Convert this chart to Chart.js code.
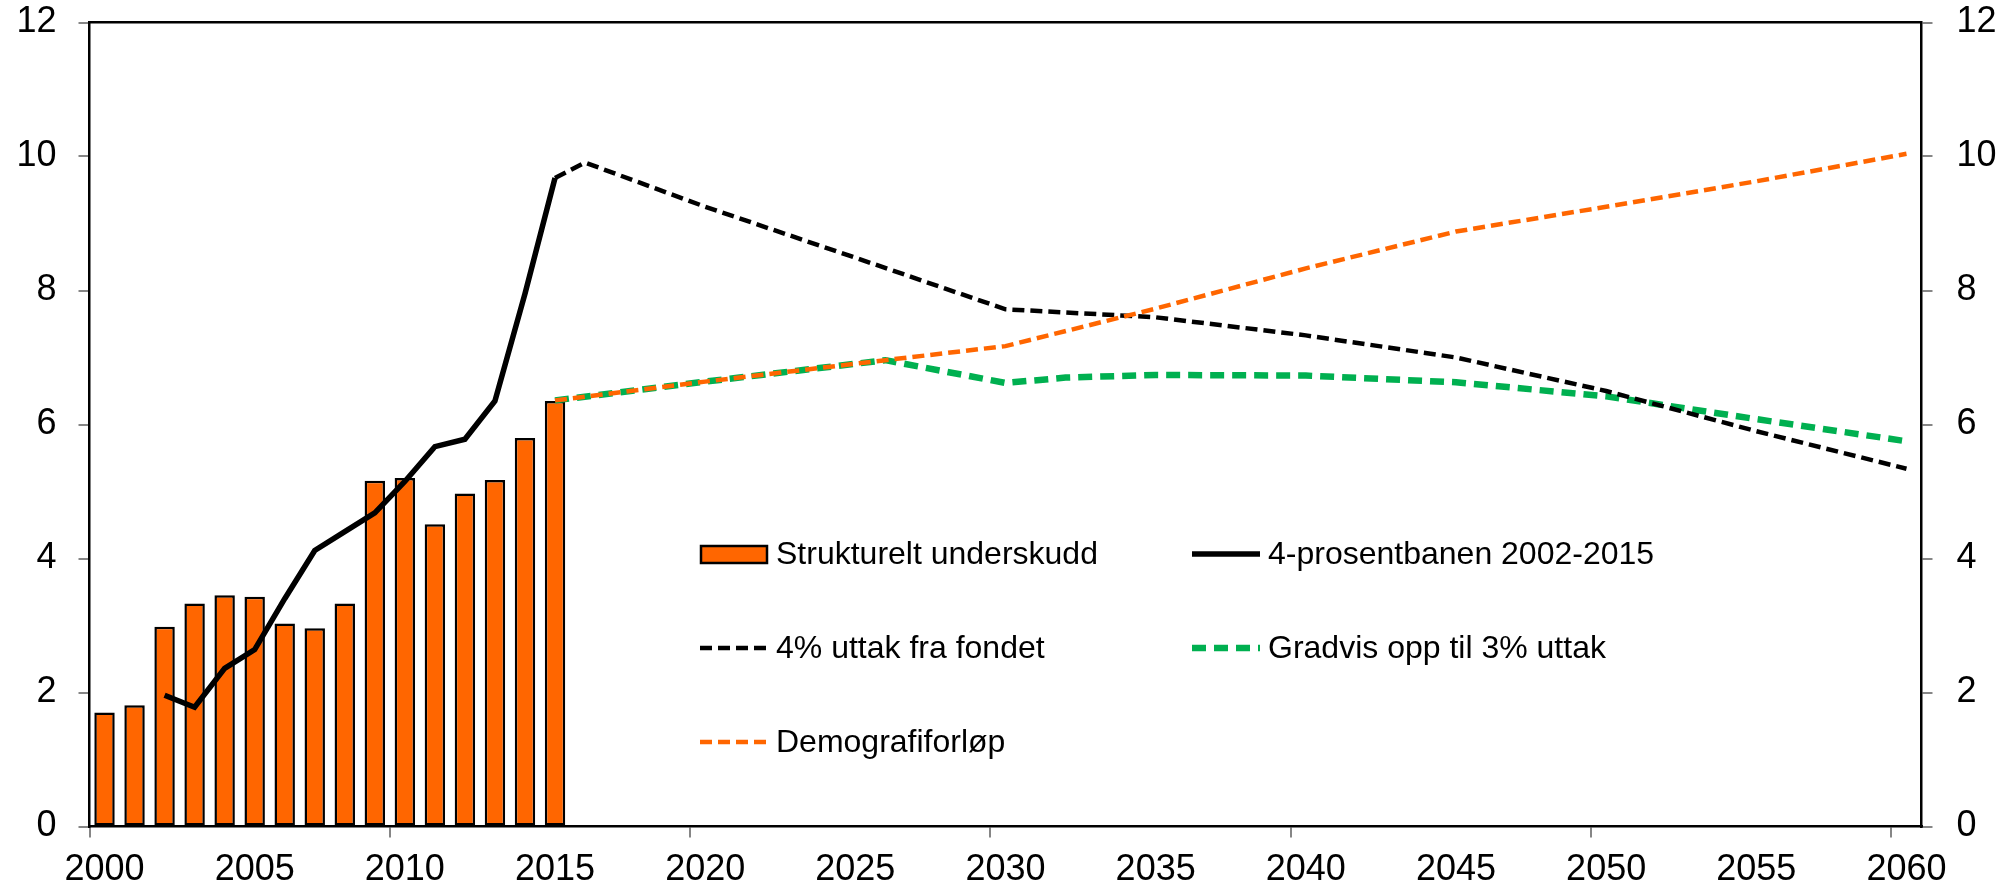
<!DOCTYPE html>
<html>
<head>
<meta charset="utf-8">
<script src="https://cdn.jsdelivr.net/npm/chart.js@4.4.1/dist/chart.umd.min.js"></script>
<style>
  html, body { margin: 0; padding: 0; background: #fff; }
  #wrap { position: relative; width: 2010px; height: 888px; }
</style>
</head>
<body>
<div id="wrap"><canvas id="chartFund"></canvas></div>
<script>
// categories: one per year, 2000-2060
const years = Array.from({ length: 61 }, (_, i) => String(2000 + i));

// Strukturelt underskudd, 2000-2015
const deficit = [1.70, 1.81, 2.98, 3.33, 3.45, 3.43, 3.03, 2.96, 3.33, 5.16, 5.20, 4.51, 4.97, 5.17, 5.80, 6.35];

// 4-prosentbanen 2002-2015
const pathYears = ["2002", "2003", "2004", "2005", "2006", "2007", "2008", "2009", "2010", "2011", "2012", "2013", "2014", "2015"];
const pathValues = [1.96, 1.78, 2.36, 2.64, 3.40, 4.12, 4.40, 4.68, 5.15, 5.67, 5.78, 6.35, 7.95, 9.68];

// 4% uttak fra fondet
const fourPctYears = ["2015", "2016", "2020", "2025", "2030", "2035", "2040", "2045", "2050", "2055", "2060"];
const fourPctValues = [9.68, 9.91, 9.25, 8.49, 7.72, 7.60, 7.33, 7.00, 6.50, 5.90, 5.34];

// Gradvis opp til 3% uttak
const gradYears = ["2015", "2020", "2026", "2030", "2032", "2035", "2040", "2045", "2050", "2055", "2060"];
const gradValues = [6.36, 6.64, 6.96, 6.62, 6.70, 6.74, 6.73, 6.63, 6.42, 6.08, 5.75];

// Demografiforløp
const demoYears = ["2015", "2020", "2026", "2030", "2035", "2040", "2045", "2050", "2055", "2060"];
const demoValues = [6.36, 6.64, 6.96, 7.17, 7.73, 8.33, 8.88, 9.25, 9.63, 10.04];

const yTicks = [0, 2, 4, 6, 8, 10, 12];

const FONT = "'Liberation Sans', Arial, sans-serif";
const ORANGE = "#FF6600";
const GREEN = "#00B050";
const TICK_GREY = "#868686";

const toPoints = (xs, ys) => xs.map((x, i) => ({ x, y: ys[i] }));

// fixed box sizes so the plot frame lands where the original has it
const fixBox = (size) => (s) => {
  if (s.isHorizontal()) s.height = size; else s.width = size;
  s.paddingTop = 0; s.paddingBottom = 0; s.paddingLeft = 0; s.paddingRight = 0;
};

// legend drawn inside the plot, two columns
const insideLegend = {
  id: "insideLegend",
  afterDraw(chart) {
    const ctx = chart.ctx;
    const slots = [[700, 554], [1192, 554], [700, 648], [1192, 648], [700, 742]];
    const symW = 68;
    ctx.save();
    ctx.font = "32px " + FONT;
    ctx.textBaseline = "middle";
    chart.data.datasets.forEach((ds, i) => {
      const [x, y] = slots[i];
      if (ds.type === "bar") {
        ctx.fillStyle = ds.backgroundColor;
        ctx.fillRect(x, y - 9, symW, 19);
        ctx.lineWidth = 2.5;
        ctx.strokeStyle = "#000";
        ctx.strokeRect(x + 1, y - 8, symW - 2, 17);
      } else {
        ctx.beginPath();
        ctx.setLineDash(ds.borderDash || []);
        ctx.lineWidth = ds.borderWidth;
        ctx.strokeStyle = ds.borderColor;
        ctx.moveTo(x, y);
        ctx.lineTo(x + symW, y);
        ctx.stroke();
        ctx.setLineDash([]);
      }
      ctx.fillStyle = "#000";
      ctx.fillText(ds.label, x + symW + 8, y + 1);
    });
    ctx.restore();
  }
};

const tickFont = { family: FONT, size: 36 };

const config = {
  type: "bar",
  data: {
    labels: years,
    datasets: [
      {
        type: "bar",
        label: "Strukturelt underskudd",
        data: deficit,
        backgroundColor: ORANGE,
        borderColor: "#000",
        borderWidth: 2.5,
        borderSkipped: false,
        categoryPercentage: 1,
        barPercentage: 0.68,
        order: 5,
      },
      {
        type: "line",
        label: "4-prosentbanen 2002-2015",
        data: toPoints(pathYears, pathValues),
        borderColor: "#000",
        borderWidth: 5.5,
        pointRadius: 0,
        tension: 0,
        order: 0,
      },
      {
        type: "line",
        label: "4% uttak fra fondet",
        data: toPoints(fourPctYears, fourPctValues),
        borderColor: "#000",
        borderWidth: 4.5,
        borderDash: [12, 6],
        pointRadius: 0,
        tension: 0,
        order: 2,
      },
      {
        type: "line",
        label: "Gradvis opp til 3% uttak",
        data: toPoints(gradYears, gradValues),
        borderColor: GREEN,
        borderWidth: 6.5,
        borderDash: [14, 8],
        pointRadius: 0,
        tension: 0,
        order: 3,
      },
      {
        type: "line",
        label: "Demografiforløp",
        data: toPoints(demoYears, demoValues),
        borderColor: ORANGE,
        borderWidth: 4.5,
        borderDash: [12, 6],
        pointRadius: 0,
        tension: 0,
        order: 1,
      },
    ]
  },
  options: {
    responsive: true,
    maintainAspectRatio: false,
    animation: false,
    layout: { padding: 0 },
    plugins: {
      legend: { display: false },
      tooltip: { enabled: false },
    },
    scales: {
      x: {
        type: "category",
        position: "bottom",
        offset: true,
        grid: {
          offset: true,
          drawOnChartArea: false,
          drawTicks: true,
          tickLength: 11,
          lineWidth: 2,
          color: (c) => (c.index % 10 === 0 ? TICK_GREY : "rgba(0,0,0,0)"),
        },
        border: { display: true, color: "#000", width: 2.5 },
        ticks: {
          autoSkip: false,
          maxRotation: 0,
          minRotation: 0,
          padding: 11,
          color: "#000",
          font: tickFont,
          callback: function (value) {
            const lab = this.getLabelForValue(value);
            return Number(lab) % 5 === 0 ? lab : "";
          },
        },
        afterFit: fixBox(61.5),
      },
      xTop: {
        type: "category",
        position: "top",
        offset: true,
        grid: { display: false },
        border: { display: true, color: "#000", width: 2.5 },
        ticks: { display: false },
        afterFit: fixBox(22.5),
      },
      y: {
        position: "left",
        min: 0,
        max: 12,
        afterBuildTicks: (s) => { s.ticks = yTicks.map(v => ({ value: v })); },
        grid: { drawOnChartArea: false, tickLength: 11, lineWidth: 2, color: TICK_GREY },
        border: { display: true, color: "#000", width: 2.5 },
        ticks: { padding: 22, color: "#000", font: tickFont },
        afterFit: fixBox(89.5),
      },
      y2: {
        position: "right",
        min: 0,
        max: 12,
        afterBuildTicks: (s) => { s.ticks = yTicks.map(v => ({ value: v })); },
        grid: { drawOnChartArea: false, tickLength: 11, lineWidth: 2, color: TICK_GREY },
        border: { display: true, color: "#000", width: 2.5 },
        ticks: { padding: 24, color: "#000", font: tickFont },
        afterFit: fixBox(88.5),
      },
    }
  },
  plugins: [insideLegend],
};

const chart = new Chart(document.getElementById("chartFund").getContext("2d"), config);
</script>
</body>
</html>
